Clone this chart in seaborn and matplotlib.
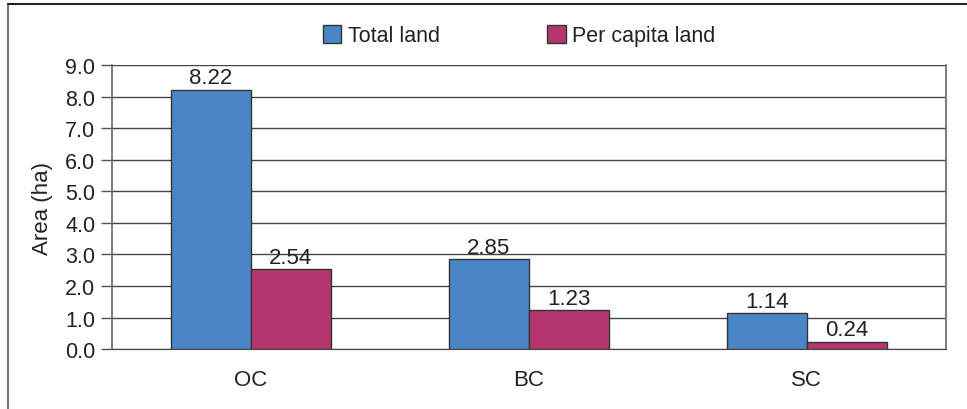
import numpy as np
import pandas as pd
import seaborn as sns
import matplotlib.pyplot as plt
from matplotlib.lines import Line2D

groups = ['OC', 'BC', 'SC']
total_land = [8.22, 2.85, 1.14]
per_capita_land = [2.54, 1.23, 0.24]
series = ['Total land', 'Per capita land']
y_ticks = np.arange(0, 9.01, 1.0)

df = pd.DataFrame({
    'group': groups * 2,
    'area': total_land + per_capita_land,
    'series': [series[0]] * 3 + [series[1]] * 3,
})

sns.set_style('white')
plt.rcParams['font.family'] = ['Liberation Sans', 'DejaVu Sans']
text_c = '#222222'

fig = plt.figure(figsize=(9.67, 4.10), dpi=100)
ax = fig.add_axes([0.1158, 0.146, 0.978 - 0.1158, 0.839 - 0.146])

sns.barplot(df, x='group', y='area', hue='series', ax=ax, width=0.575, gap=0,
            palette=['#4a86c6', '#b5366f'], edgecolor='#333333', linewidth=1,
            saturation=1, legend=True, zorder=3)

for c in ax.containers:
    ax.bar_label(c, labels=[f'{v:.2f}' for v in c.datavalues], padding=1,
                 fontsize=16, color=text_c)

ax.set_ylim(0, 9)
ax.set_xlim(-0.5, 2.5)
ax.set_yticks(y_ticks)
ax.set_yticklabels([f'{t:.1f}' for t in y_ticks], fontsize=15.5, color=text_c)
ax.set_xticks(range(3))
ax.set_xticklabels(groups, fontsize=16, color=text_c)
ax.set_xticks([-0.5, 0.5, 1.5, 2.5], minor=True)
ax.tick_params(axis='x', which='major', length=0, pad=14)
ax.tick_params(axis='x', which='minor', length=6, width=1, color='#555555', direction='out')
ax.tick_params(axis='y', length=8, width=1, color='#555555', direction='out', pad=4, left=True)
ax.set_xlabel('')
ax.set_ylabel('Area (ha)', fontsize=16, color=text_c, labelpad=9)
ax.yaxis.grid(True, color='#444444', linewidth=1)
ax.set_axisbelow(True)
for s in ['left', 'right']:
    ax.spines[s].set_visible(True)
    ax.spines[s].set_color('#666666')
    ax.spines[s].set_linewidth(1.2)
ax.spines['bottom'].set_color('#444444')
ax.spines['top'].set_visible(False)

handles, labels = ax.get_legend_handles_labels()
ax.legend_.remove()
fig.legend(handles, labels, loc='center', bbox_to_anchor=(0.537, 0.91), ncol=2,
           frameon=False, fontsize=15.5, handlelength=0.85, handleheight=0.85,
           handletextpad=0.3, columnspacing=5.0, labelcolor=text_c)

# outer frame
fig.add_artist(Line2D([8 / 967, 8 / 967], [0, 1 - 5 / 410], color='#777777', lw=1.5))
fig.add_artist(Line2D([8 / 967, 1], [1 - 5 / 410, 1 - 5 / 410], color='#222222', lw=1.5))

fig.savefig('out.png', dpi=100)
